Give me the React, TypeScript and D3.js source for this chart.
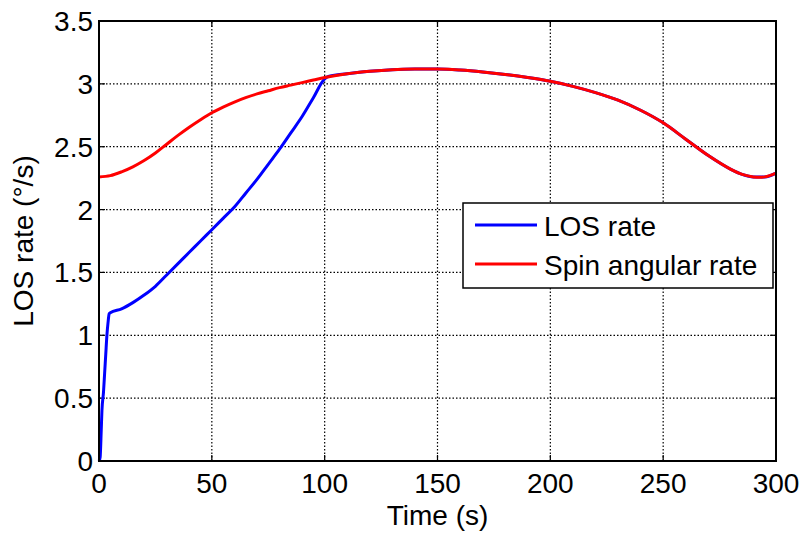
import React, { useEffect, useRef } from 'react';
import * as d3 from 'd3';

// time samples (s) and values (°/s)
const losTime = [0, 0.5, 1, 1.3, 2, 2.5, 3, 3.5, 4, 4.5, 5, 10, 15, 20, 25, 30, 35, 40, 45, 50, 55, 60, 65, 70, 75, 80, 85, 90, 95, 100, 102,
    110, 120, 130, 140, 150, 160, 170, 180, 190, 200, 210, 220, 230, 240, 250, 260, 270, 280, 285, 290, 295, 300];
const losRate = [0, 0.03, 0.25, 0.4, 0.55, 0.7, 0.85, 1.0, 1.1, 1.17, 1.18, 1.21, 1.26, 1.32, 1.39, 1.48, 1.57, 1.66, 1.75, 1.84, 1.93, 2.02, 2.13, 2.24, 2.36, 2.48, 2.61, 2.74, 2.89, 3.04, 3.06,
    3.08, 3.10, 3.113, 3.118, 3.118, 3.11, 3.095, 3.075, 3.05, 3.02, 2.98, 2.93, 2.87, 2.79, 2.69, 2.56, 2.43, 2.32, 2.28, 2.26, 2.26, 2.29];

const spinTime = [0, 5, 10, 15, 20, 25, 30, 35, 40, 45, 50, 55, 60, 65, 70, 75, 80, 85, 90, 95, 100,
    110, 120, 130, 140, 150, 160, 170, 180, 190, 200, 210, 220, 230, 240, 250, 260, 270, 280, 285, 290, 295, 300];
const spinRate = [2.26, 2.27, 2.30, 2.34, 2.39, 2.45, 2.52, 2.59, 2.655, 2.715, 2.77, 2.815, 2.855, 2.89, 2.92, 2.945, 2.97, 2.99, 3.01, 3.03, 3.05,
    3.08, 3.10, 3.113, 3.118, 3.118, 3.11, 3.095, 3.075, 3.05, 3.02, 2.98, 2.93, 2.87, 2.79, 2.69, 2.56, 2.43, 2.32, 2.28, 2.26, 2.26, 2.29];

const xTicks = [0, 50, 100, 150, 200, 250, 300];
const yTicks = [0, 0.5, 1, 1.5, 2, 2.5, 3, 3.5];
const seriesNames = ['LOS rate', 'Spin angular rate'];
const seriesColors = ['#0000ff', '#ff0000'];

const App = () => {
    const svgRef = useRef(null);

    useEffect(() => {
        const svg = d3.select(svgRef.current);
        const width = 801;
        const height = 538;
        const marginLeft = 99;
        const marginRight = 25;
        const marginTop = 21;
        const marginBottom = 77;
        const font = '"Liberation Sans", Arial, sans-serif';

        svg.attr('width', width).attr('height', height).selectAll('*').remove();

        const x = d3.scaleLinear().domain([0, 300]).range([marginLeft, width - marginRight]);
        const y = d3.scaleLinear().domain([0, 3.5]).range([height - marginBottom, marginTop]);

        // grid
        const grid = svg.append('g')
            .attr('stroke', '#000')
            .attr('stroke-width', 1.2)
            .attr('stroke-dasharray', '1.5,2');
        grid.selectAll('.gx').data(xTicks.slice(1, -1)).enter().append('line')
            .attr('x1', d => x(d)).attr('x2', d => x(d))
            .attr('y1', y(0)).attr('y2', y(3.5));
        grid.selectAll('.gy').data(yTicks.slice(1, -1)).enter().append('line')
            .attr('x1', x(0)).attr('x2', x(300))
            .attr('y1', d => y(d)).attr('y2', d => y(d));

        // inward tick marks on all sides
        const tk = svg.append('g').attr('stroke', '#000').attr('stroke-width', 1.2);
        xTicks.forEach(t => {
            tk.append('line').attr('x1', x(t)).attr('x2', x(t)).attr('y1', y(0)).attr('y2', y(0) - 6);
            tk.append('line').attr('x1', x(t)).attr('x2', x(t)).attr('y1', y(3.5)).attr('y2', y(3.5) + 6);
        });
        yTicks.forEach(t => {
            tk.append('line').attr('x1', x(0)).attr('x2', x(0) + 6).attr('y1', y(t)).attr('y2', y(t));
            tk.append('line').attr('x1', x(300)).attr('x2', x(300) - 6).attr('y1', y(t)).attr('y2', y(t));
        });

        const losLine = d3.line()
            .x(d => x(d[0]))
            .y(d => y(d[1]))
            .curve(d3.curveMonotoneX);

        const spinLine = d3.line()
            .x(d => x(d[0]))
            .y(d => y(d[1]))
            .curve(d3.curveCatmullRom.alpha(0.5));

        const losData = losTime.map((t, i) => [t, losRate[i]]);
        const spinData = spinTime.map((t, i) => [t, spinRate[i]]);

        svg.append('path')
            .datum(losData)
            .attr('d', losLine)
            .attr('fill', 'none')
            .attr('stroke', seriesColors[0])
            .attr('stroke-width', 3);

        svg.append('path')
            .datum(spinData)
            .attr('d', spinLine)
            .attr('fill', 'none')
            .attr('stroke', seriesColors[1])
            .attr('stroke-width', 3);

        // axes box
        svg.append('rect')
            .attr('x', x(0)).attr('y', y(3.5))
            .attr('width', x(300) - x(0)).attr('height', y(0) - y(3.5))
            .attr('fill', 'none')
            .attr('stroke', '#000')
            .attr('stroke-width', 2);

        // tick labels
        svg.selectAll('.xl').data(xTicks).enter().append('text')
            .attr('x', d => x(d))
            .attr('y', y(0) + 32)
            .attr('text-anchor', 'middle')
            .attr('font-family', font)
            .attr('font-size', 28)
            .text(d => d);

        svg.selectAll('.yl').data(yTicks).enter().append('text')
            .attr('x', x(0) - 6)
            .attr('y', d => y(d) + 10)
            .attr('text-anchor', 'end')
            .attr('font-family', font)
            .attr('font-size', 28)
            .text(d => d);

        // axis titles
        svg.append('text')
            .attr('x', (x(0) + x(300)) / 2)
            .attr('y', 525)
            .attr('text-anchor', 'middle')
            .attr('font-family', font)
            .attr('font-size', 28)
            .text('Time (s)');

        svg.append('text')
            .attr('transform', `translate(33, ${(y(0) + y(3.5)) / 2}) rotate(-90)`)
            .attr('text-anchor', 'middle')
            .attr('font-family', font)
            .attr('font-size', 28)
            .text('LOS rate (°/s)');

        // legend
        const lg = svg.append('g');
        lg.append('rect')
            .attr('x', 463).attr('y', 203)
            .attr('width', 310).attr('height', 85)
            .attr('fill', '#fff')
            .attr('stroke', '#000')
            .attr('stroke-width', 1.5);
        seriesNames.forEach((name, i) => {
            const cy = 225 + i * 39;
            lg.append('line')
                .attr('x1', 475).attr('x2', 537)
                .attr('y1', cy).attr('y2', cy)
                .attr('stroke', seriesColors[i])
                .attr('stroke-width', 3);
            lg.append('text')
                .attr('x', 544)
                .attr('y', cy + 11)
                .attr('font-family', font)
                .attr('font-size', 28)
                .text(name);
        });
    }, []);

    return <svg ref={svgRef} style={{ position: 'absolute', left: 0, top: 0 }}></svg>;
};

export default App;
